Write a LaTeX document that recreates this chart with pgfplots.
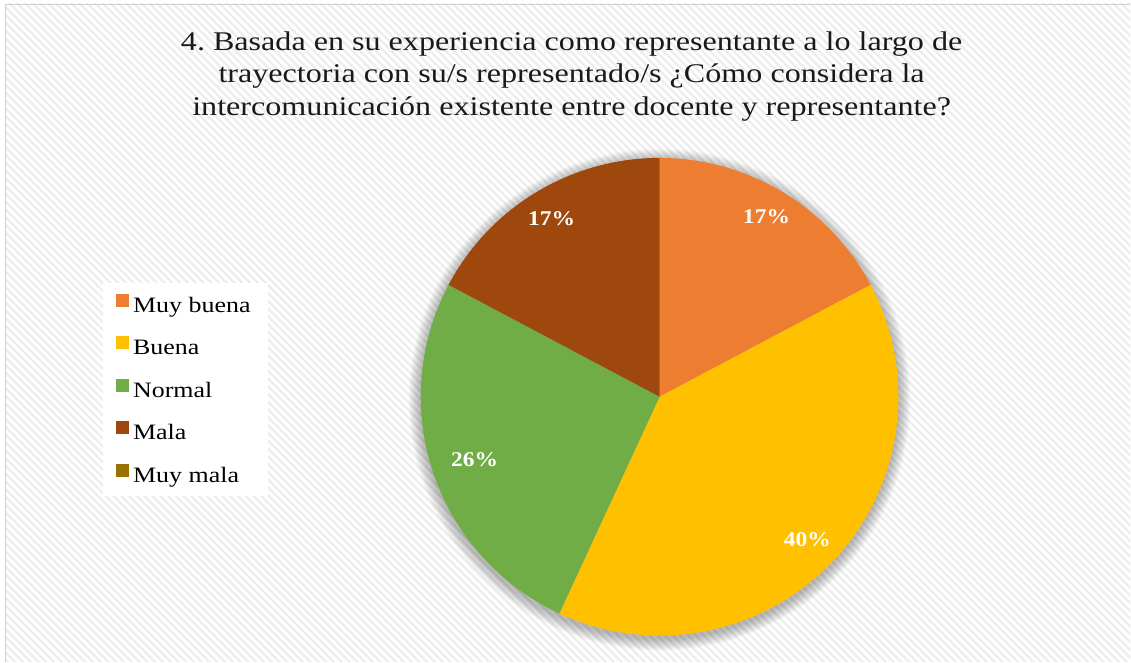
\documentclass[border=0pt]{standalone}
\usepackage{pgfplots}
\pgfplotsset{compat=1.18}
\usepackage{fontspec}
\setmainfont{Liberation Serif}
\newfontfamily\titlefont[FakeStretch=1.19]{Liberation Serif}
\newfontfamily\legfont[FakeStretch=1.18]{Liberation Serif}
\newfontfamily\labfont[FakeStretch=1.12,BoldFeatures={FakeStretch=1.12}]{Liberation Serif}
\usetikzlibrary{patterns.meta}
\definecolor{cMB}{HTML}{ED7D31}
\definecolor{cB}{HTML}{FFC000}
\definecolor{cN}{HTML}{70AD47}
\definecolor{cM}{HTML}{9E480E}
\definecolor{cMM}{HTML}{997300}
% data: counts per category
\def\vA{10}% Muy buena
\def\vB{23}% Buena
\def\vC{15}% Normal
\def\vD{10}% Mala
\def\vE{0}%  Muy mala
\pgfmathsetmacro\tot{\vA+\vB+\vC+\vD+\vE}
\pgfmathsetmacro\eA{360*\vA/\tot}
\pgfmathsetmacro\eB{\eA+360*\vB/\tot}
\pgfmathsetmacro\eC{\eB+360*\vC/\tot}
\pgfmathsetmacro\eD{\eC+360*\vD/\tot}
\frenchspacing
\begin{document}
\begin{tikzpicture}
\begin{axis}[
  width=1131pt, height=662pt, scale only axis,
  xmin=0, xmax=1131, ymin=0, ymax=662,
  hide axis, clip=false,
  legend image code/.code={\fill[#1, draw=none] (0pt,-1pt) rectangle (13pt,12pt);},
  legend cell align=left,
  legend style={at={(axis cs:103,379)}, anchor=north west, draw=none, fill=white,
    font=\legfont\fontsize{22}{26}\selectfont, inner xsep=13pt, inner ysep=11pt, row sep=21pt,
    nodes={inner xsep=4pt, inner ysep=0pt, text height=16pt, text depth=3pt}},
]
\fill[white] (axis cs:0,0) rectangle (axis cs:1131,662);
\fill[pattern={Lines[angle=-45,distance=5.5pt,line width=2.3pt]}, pattern color=black!7]
  (axis cs:5,0) rectangle (axis cs:1131,658);
\draw[black!18, line width=1.5pt] (axis cs:5.75,0) -- (axis cs:5.75,657.25) -- (axis cs:1131,657.25);
\pgfplotsinvokeforeach{1,...,12}{
  \fill[black, opacity=0.022] (axis cs:660,262) circle[radius={239+#1}];
}
\addplot[forget plot, draw=none, fill=cMB, domain=0:\eA, samples=60] ({660+239*sin(x)},{265+239*cos(x)}) -- (axis cs:660,265) -- cycle;
\addplot[forget plot, draw=none, fill=cB, domain=\eA:\eB, samples=90] ({660+239*sin(x)},{265+239*cos(x)}) -- (axis cs:660,265) -- cycle;
\addplot[forget plot, draw=none, fill=cN, domain=\eB:\eC, samples=70] ({660+239*sin(x)},{265+239*cos(x)}) -- (axis cs:660,265) -- cycle;
\addplot[forget plot, draw=none, fill=cM, domain=\eC:\eD, samples=60] ({660+239*sin(x)},{265+239*cos(x)}) -- (axis cs:660,265) -- cycle;
\addlegendimage{fill=cMB}\addlegendentry{Muy buena}
\addlegendimage{fill=cB}\addlegendentry{Buena}
\addlegendimage{fill=cN}\addlegendentry{Normal}
\addlegendimage{fill=cM}\addlegendentry{Mala}
\addlegendimage{fill=cMM}\addlegendentry{Muy mala}
\begin{scope}[every node/.style={text=white, font=\labfont\bfseries\fontsize{21}{24}\selectfont}]
\node at (axis cs:767,445) {17\%};
\node at (axis cs:808,122) {40\%};
\node at (axis cs:475,202) {26\%};
\node at (axis cs:552,443) {17\%};
\end{scope}
\node[anchor=north, align=center, text=black!90, font=\titlefont\fontsize{27}{32.5}\selectfont]
  at (axis cs:572,634) {4. Basada en su experiencia como representante a lo largo de\\trayectoria con su/s representado/s ¿Cómo considera la\\intercomunicación existente entre docente y representante?};
\end{axis}
\end{tikzpicture}
\end{document}
